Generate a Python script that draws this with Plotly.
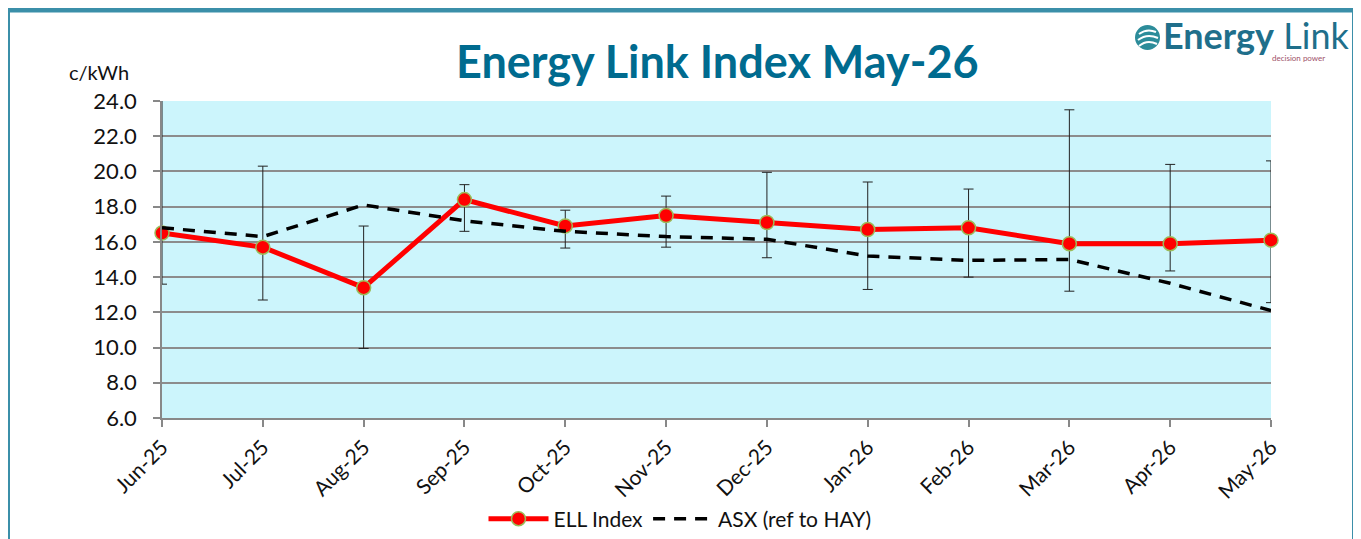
import plotly.graph_objects as go

months = ["Jun-25", "Jul-25", "Aug-25", "Sep-25", "Oct-25", "Nov-25",
          "Dec-25", "Jan-26", "Feb-26", "Mar-26", "Apr-26", "May-26"]
ell_index = [16.5, 15.7, 13.4, 18.4, 16.9, 17.5, 17.1, 16.7, 16.8, 15.9, 15.9, 16.1]
asx_ref_hay = [16.8, 16.3, 18.1, 17.2, 16.6, 16.3, 16.15, 15.2, 14.95, 15.0, 13.65, 12.1]
ell_upper = [25.0, 20.3, 16.9, 19.25, 17.8, 18.6, 19.95, 19.4, 19.0, 23.5, 20.4, 20.6]
ell_lower = [13.6, 12.7, 9.95, 16.6, 15.65, 15.7, 15.1, 13.3, 14.0, 13.2, 14.35, 12.55]
y_ticks = [6, 8, 10, 12, 14, 16, 18, 20, 22, 24]

x_pos = list(range(len(months)))
err_plus = [u - v for u, v in zip(ell_upper, ell_index)]
err_minus = [v - l for v, l in zip(ell_index, ell_lower)]

FONT = "Lato"
TEAL = "#006B8F"
OFF = 8  # default page body margin

W, H = 1361 - OFF, 539 - OFF
L, T = 162 - OFF, 101 - OFF
pw, ph = 1109, 317
R = W - L - pw
B = H - T - ph

def px_x(p):
    return (p - OFF - L) / pw

def px_y(p):
    return (T + ph - (p - OFF)) / ph

fig = go.Figure()

fig.add_trace(go.Scatter(
    x=x_pos, y=ell_index, name="ELL Index", mode="lines+markers",
    line=dict(color="#FF0000", width=5),
    marker=dict(color="#FF0000", size=14, line=dict(color="#9BBB59", width=1.5)),
    error_y=dict(type="data", symmetric=False, array=err_plus, arrayminus=err_minus,
                 color="#222222", thickness=1, width=5),
    cliponaxis=False,
))
fig.add_trace(go.Scatter(
    x=x_pos, y=asx_ref_hay, name="ASX (ref to HAY)", mode="lines",
    line=dict(color="#000000", width=3.5, dash="12px,9px"),
))

fig.update_layout(
    width=W, height=H,
    margin=dict(l=L, r=R, t=T, b=B, autoexpand=False),
    paper_bgcolor="white",
    plot_bgcolor="#CCF5FC",
    font=dict(family=FONT, size=22, color="#111111"),
    showlegend=True,
    legend=dict(orientation="h", xref="paper", yref="container",
                x=px_x(680), y=(H - (519 - OFF)) / H, xanchor="center", yanchor="middle",
                font=dict(family=FONT, size=21, color="#111111"),
                bgcolor="rgba(0,0,0,0)", itemwidth=60, traceorder="normal"),
    xaxis=dict(range=[0, len(months) - 1], tickvals=x_pos, ticktext=months,
               tickangle=-45, showgrid=False, zeroline=False, automargin=False,
               showline=True, linecolor="#888888", linewidth=1.5,
               ticks="outside", ticklen=7, tickcolor="#888888", tickwidth=1.5,
               tickfont=dict(family=FONT, size=21, color="#111111")),
    yaxis=dict(range=[6, 24], tickvals=y_ticks, ticktext=[f"{v:.1f}" for v in y_ticks],
               showgrid=True, gridcolor="#8C8C8C", gridwidth=1.5, zeroline=False, automargin=False,
               showline=True, linecolor="#888888", linewidth=1.5,
               ticks="outside", ticklen=7, tickcolor="#888888", tickwidth=1.5,
               ticklabelstandoff=12,
               tickfont=dict(family=FONT, size=22, color="#111111")),
    shapes=[
        dict(type="rect", xref="paper", yref="paper",
             x0=px_x(7.5), x1=px_x(1354.5), y0=px_y(560), y1=px_y(10),
             line=dict(color="#3B8FA9", width=5), fillcolor="rgba(0,0,0,0)", layer="above"),
        dict(type="circle", xref="paper", yref="paper",
             x0=px_x(1135), x1=px_x(1160), y0=px_y(50), y1=px_y(25),
             line=dict(color="#2C8C9A", width=0), fillcolor="#2C8C9A"),
        dict(type="path", xref="paper", yref="paper",
             path=f"M {px_x(1139)} {px_y(34)} Q {px_x(1147)} {px_y(28)} {px_x(1156)} {px_y(32)}",
             line=dict(color="white", width=2)),
        dict(type="path", xref="paper", yref="paper",
             path=f"M {px_x(1138)} {px_y(40)} Q {px_x(1147)} {px_y(33)} {px_x(1158)} {px_y(38)}",
             line=dict(color="white", width=2)),
        dict(type="path", xref="paper", yref="paper",
             path=f"M {px_x(1139)} {px_y(46)} Q {px_x(1147)} {px_y(39)} {px_x(1157)} {px_y(44)}",
             line=dict(color="white", width=2)),
    ],
    annotations=[
        dict(text="<b>Energy Link Index May-26</b>", xref="paper", yref="paper",
             x=px_x(717), y=px_y(61), xanchor="center", yanchor="middle", showarrow=False,
             font=dict(family=FONT, size=45, color=TEAL)),
        dict(text="c/kWh", xref="paper", yref="paper",
             x=px_x(67), y=px_y(72), xanchor="left", yanchor="middle", showarrow=False,
             font=dict(family=FONT, size=20, color="#111111")),
        dict(text="<b>Energy</b> Link", xref="paper", yref="paper",
             x=px_x(1161), y=px_y(35), xanchor="left", yanchor="middle", showarrow=False,
             font=dict(family=FONT, size=36, color="#1F6F8B")),
        dict(text="decision power", xref="paper", yref="paper",
             x=px_x(1327), y=px_y(58), xanchor="right", yanchor="middle", showarrow=False,
             font=dict(family=FONT, size=8, color="#A0526A")),
    ],
)

fig.write_html("out.html")
